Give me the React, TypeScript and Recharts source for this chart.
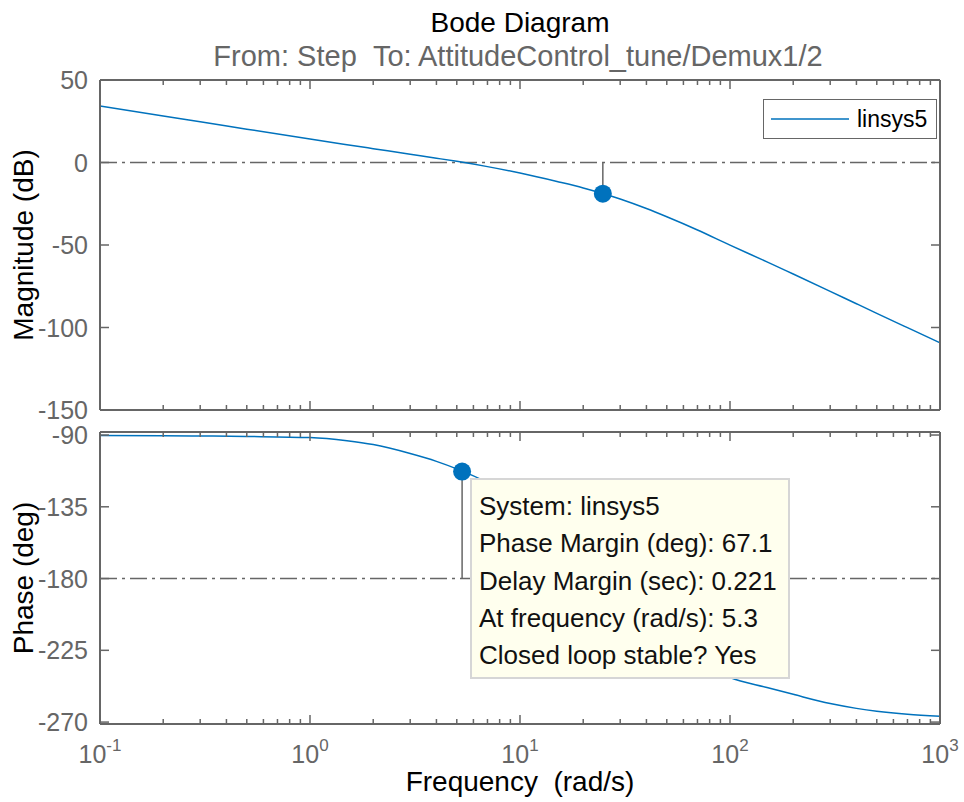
import React from "react";
import { LineChart, Line, XAxis, YAxis, ReferenceLine, ReferenceDot, Legend } from "recharts";

// values
const freq = [0.1, 0.2, 0.3, 0.5, 1, 1.5, 2, 3, 4, 5, 7, 10, 15, 20, 30, 40, 50, 70, 100, 150, 200, 300, 400, 500, 700, 1000];
const magnitude = [34.2, 28.2, 24.7, 20.2, 14.2, 10.8, 8.4, 5.0, 2.6, 0.7, -2.5, -6.4, -11.5, -15.4, -22.1, -27.9, -32.9, -40.9, -50.1, -60.2, -67.6, -78.1, -85.6, -91.4, -100.1, -109.3];
const phase = [-90.3, -90.5, -90.6, -90.9, -91.6, -93.6, -96.0, -101.6, -106.5, -111.2, -119.8, -132.0, -150.8, -167.0, -191.5, -207.5, -218.5, -231.5, -242.0, -248.3, -252.6, -258.4, -261.4, -263.2, -265.1, -266.3];

const majorFreqTicks = [0.1, 1, 10, 100, 1000];
const freqExponents = ["-1", "0", "1", "2", "3"];
const minorFreqTicks = [
  0.2, 0.3, 0.4, 0.5, 0.6, 0.7, 0.8, 0.9,
  2, 3, 4, 5, 6, 7, 8, 9,
  20, 30, 40, 50, 60, 70, 80, 90,
  200, 300, 400, 500, 600, 700, 800, 900,
];
const magTicks = [-150, -100, -50, 0, 50];
const phaseTicks = [-270, -225, -180, -135, -90];

const pmFreq = 5.3;
const pmPhase = -112.9;
const gmFreq = 24.8;
const gmMag = -18.9;

const tipLines = [
  "System: linsys5",
  "Phase Margin (deg): 67.1",
  "Delay Margin (sec): 0.221",
  "At frequency (rad/s): 5.3",
  "Closed loop stable? Yes",
];

const data = freq.map((w, i) => ({ w, mag: magnitude[i], phase: phase[i] }));
const freqTicks = [...majorFreqTicks, ...minorFreqTicks].sort((a, b) => a - b);

const FONT = "'Liberation Sans', Arial, Helvetica, sans-serif";
const AXIS = "#666666";
const BLUE = "#0072BD";
const DASHDOT = "17 5 3 5";

const majorIndex = (v: number) => majorFreqTicks.findIndex((m) => Math.abs(m - v) < 1e-9);

const makeBottomTick = (labels: boolean) => (props: any) => {
  const { x, y, payload } = props;
  const idx = majorIndex(payload.value);
  const len = idx >= 0 ? 9 : 5;
  return (
    <g>
      <line x1={x} x2={x} y1={y} y2={y - len} stroke={AXIS} strokeWidth={1.5} />
      {labels && idx >= 0 && (
        <text x={x} y={y + 39} textAnchor="middle" fill={AXIS} fontSize={25} fontFamily={FONT}>
          10
          <tspan dy={-12} fontSize={17}>
            {freqExponents[idx]}
          </tspan>
        </text>
      )}
    </g>
  );
};

const TopTick = (props: any) => {
  const { x, y, payload } = props;
  const len = majorIndex(payload.value) >= 0 ? 9 : 5;
  return <line x1={x} x2={x} y1={y} y2={y + len} stroke={AXIS} strokeWidth={1.5} />;
};

const LeftTick = (props: any) => {
  const { x, y, payload } = props;
  return (
    <g>
      <line x1={x} x2={x + 9} y1={y} y2={y} stroke={AXIS} strokeWidth={1.5} />
      <text x={x - 12} y={y} dy="0.36em" textAnchor="end" fill={AXIS} fontSize={25} fontFamily={FONT}>
        {payload.value}
      </text>
    </g>
  );
};

const RightTick = (props: any) => {
  const { x, y } = props;
  return <line x1={x} x2={x - 9} y1={y} y2={y} stroke={AXIS} strokeWidth={1.5} />;
};

const LegendBox = () => (
  <svg width={174} height={40} style={{ display: "block" }}>
    <rect x={0.5} y={0.5} width={173} height={39} fill="#ffffff" stroke={AXIS} strokeWidth={1} />
    <line x1={8} x2={86} y1={20} y2={20} stroke={BLUE} strokeWidth={1.5} />
    <text x={94} y={28} fontSize={23} fontFamily={FONT} fill="#000">
      linsys5
    </text>
  </svg>
);

const axisLine = { stroke: AXIS, strokeWidth: 2 };

export default function App() {
  return (
    <div style={{ position: "absolute", left: 0, top: 0, width: 964, height: 802, background: "#fff" }}>
      <div style={{ position: "absolute", left: 0, top: 0 }}>
        <LineChart width={964} height={424} data={data} margin={{ top: 79, right: 23, bottom: 13, left: 0 }}
          style={{ overflow: "visible" }}>
          <XAxis xAxisId="bottom" dataKey="w" type="number" scale="log" domain={[0.1, 1000]} allowDataOverflow
            ticks={freqTicks} interval={0} height={1} tickSize={0} tickMargin={0} tickLine={false}
            axisLine={axisLine} tick={makeBottomTick(false)} />
          <XAxis xAxisId="top" orientation="top" dataKey="w" type="number" scale="log" domain={[0.1, 1000]} allowDataOverflow
            ticks={freqTicks} interval={0} height={1} tickSize={0} tickMargin={0} tickLine={false}
            axisLine={axisLine} tick={TopTick} />
          <YAxis yAxisId="left" type="number" domain={[-150, 50]} ticks={magTicks} interval={0} allowDataOverflow
            width={100} tickSize={0} tickMargin={0} tickLine={false} axisLine={axisLine} tick={LeftTick} />
          <YAxis yAxisId="right" orientation="right" type="number" domain={[-150, 50]} ticks={magTicks} interval={0} allowDataOverflow
            width={1} tickSize={0} tickMargin={0} tickLine={false} axisLine={axisLine} tick={RightTick} />
          <ReferenceLine xAxisId="bottom" yAxisId="left" y={0} stroke={AXIS} strokeWidth={1.5} strokeDasharray={DASHDOT} />
          <ReferenceLine xAxisId="bottom" yAxisId="left" segment={[{ x: gmFreq, y: gmMag }, { x: gmFreq, y: 0 }]}
            stroke={AXIS} strokeWidth={1.5} />
          <Line xAxisId="bottom" yAxisId="left" type="monotone" dataKey="mag" stroke={BLUE} strokeWidth={1.5}
            dot={false} isAnimationActive={false} />
          <ReferenceDot xAxisId="bottom" yAxisId="left" x={gmFreq} y={gmMag} r={9} fill={BLUE} stroke="none" />
          <Legend layout="horizontal" verticalAlign="middle" align="center"
            wrapperStyle={{ left: 763, top: 99, width: 174, height: 40 }} content={() => <LegendBox />} />
        </LineChart>
      </div>
      <div style={{ position: "absolute", left: 0, top: 420 }}>
        <LineChart width={964} height={382} data={data} margin={{ top: 11, right: 23, bottom: 77, left: 0 }}>
          <XAxis xAxisId="bottom" dataKey="w" type="number" scale="log" domain={[0.1, 1000]} allowDataOverflow
            ticks={freqTicks} interval={0} height={1} tickSize={0} tickMargin={0} tickLine={false}
            axisLine={axisLine} tick={makeBottomTick(true)} />
          <XAxis xAxisId="top" orientation="top" dataKey="w" type="number" scale="log" domain={[0.1, 1000]} allowDataOverflow
            ticks={freqTicks} interval={0} height={1} tickSize={0} tickMargin={0} tickLine={false}
            axisLine={axisLine} tick={TopTick} />
          <YAxis yAxisId="left" type="number" domain={[-271.2, -88.1]} ticks={phaseTicks} interval={0} allowDataOverflow
            width={100} tickSize={0} tickMargin={0} tickLine={false} axisLine={axisLine} tick={LeftTick} />
          <YAxis yAxisId="right" orientation="right" type="number" domain={[-271.2, -88.1]} ticks={phaseTicks} interval={0} allowDataOverflow
            width={1} tickSize={0} tickMargin={0} tickLine={false} axisLine={axisLine} tick={RightTick} />
          <ReferenceLine xAxisId="bottom" yAxisId="left" y={-180} stroke={AXIS} strokeWidth={1.5} strokeDasharray={DASHDOT} />
          <ReferenceLine xAxisId="bottom" yAxisId="left" segment={[{ x: pmFreq, y: pmPhase }, { x: pmFreq, y: -180 }]}
            stroke={AXIS} strokeWidth={1.5} />
          <Line xAxisId="bottom" yAxisId="left" type="monotone" dataKey="phase" stroke={BLUE} strokeWidth={1.5}
            dot={false} isAnimationActive={false} />
          <ReferenceDot xAxisId="bottom" yAxisId="left" x={pmFreq} y={pmPhase} r={9} fill={BLUE} stroke="none" />
        </LineChart>
      </div>
      <svg width={964} height={802} style={{ position: "absolute", left: 0, top: 0, pointerEvents: "none" }}>
        <text x={520} y={32} textAnchor="middle" fontSize={28} fontFamily={FONT} fill="#000">
          Bode Diagram
        </text>
        <text x={518} y={66} textAnchor="middle" fontSize={29} fontFamily={FONT} fill={AXIS}>
          {"From: Step\u00a0\u00a0To: AttitudeControl_tune/Demux1/2"}
        </text>
        <text x={33} y={245} transform="rotate(-90 33 245)" textAnchor="middle" fontSize={28} fontFamily={FONT} fill="#000">
          Magnitude (dB)
        </text>
        <text x={33} y={578} transform="rotate(-90 33 578)" textAnchor="middle" fontSize={28} fontFamily={FONT} fill="#000">
          Phase (deg)
        </text>
        <text x={520} y={791} textAnchor="middle" fontSize={28} fontFamily={FONT} fill="#000">
          {"Frequency\u00a0\u00a0(rad/s)"}
        </text>
        <rect x={471} y={479} width={318} height={199} fill="#ffffee" stroke="#d6d6d6" strokeWidth={2} />
        {tipLines.map((t, i) => (
          <text key={t} x={479} y={515 + i * 37.3} fontSize={26} fontFamily={FONT} fill="#111">
            {t}
          </text>
        ))}
      </svg>
    </div>
  );
}
